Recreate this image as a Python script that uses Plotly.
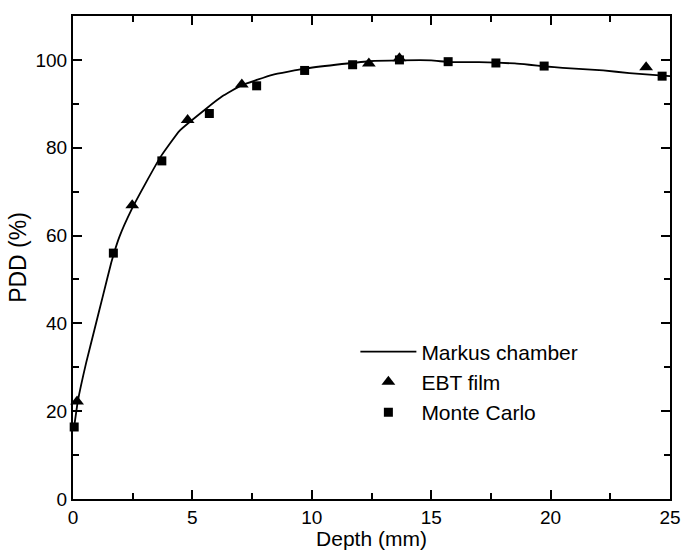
import plotly.graph_objects as go

# Markus chamber (line)
markus_depth = [0.05, 0.2, 0.55, 0.9, 1.25, 1.6, 1.95, 2.45, 3.05, 3.7, 4.45, 5.6, 6.25,
                7.05, 8.35, 9.7, 11.0, 12.4, 13.7, 15.0, 15.75, 17.0, 18.5, 19.1, 19.8,
                20.5, 22.2, 23.3, 24.7, 25.0]
markus_pdd = [16.5, 22.2, 31.0, 38.6, 46.2, 53.8, 59.8, 65.9, 72.0, 78.2, 83.8, 89.0, 91.7,
              94.2, 96.6, 98.0, 98.9, 99.7, 99.9, 99.9, 99.5, 99.5, 99.2, 98.9, 98.5,
              98.2, 97.6, 97.0, 96.4, 96.3]

# EBT film (triangles)
ebt_depth = [0.17, 2.48, 4.8, 7.07, 12.39, 13.67, 24.0]
ebt_pdd = [22.2, 66.9, 86.3, 94.4, 99.2, 100.4, 98.3]

# Monte Carlo (squares)
mc_depth = [0.05, 1.69, 3.72, 5.71, 7.69, 9.70, 11.71, 13.67, 15.71, 17.71, 19.73, 24.67]
mc_pdd = [16.4, 56.0, 77.0, 87.8, 94.1, 97.6, 98.9, 100.0, 99.6, 99.3, 98.6, 96.3]

font_family = "Liberation Sans, Arial, Helvetica, sans-serif"

fig = go.Figure()
fig.add_trace(go.Scatter(x=markus_depth, y=markus_pdd, mode="lines", name="Markus chamber",
                         line=dict(color="black", width=1.8, shape="spline", smoothing=0.3),
                         cliponaxis=False))
fig.add_trace(go.Scatter(x=ebt_depth, y=ebt_pdd, mode="markers", name="EBT film",
                         marker=dict(symbol="triangle-up", size=12, color="black"),
                         cliponaxis=False))
fig.add_trace(go.Scatter(x=mc_depth, y=mc_pdd, mode="markers", name="Monte Carlo",
                         marker=dict(symbol="square", size=9, color="black"),
                         cliponaxis=False))

axis_common = dict(
    showline=True, linecolor="black", linewidth=2, mirror="allticks",
    ticks="inside", ticklen=9, tickwidth=1.5, tickcolor="black",
    showgrid=False, zeroline=False, automargin=False,
    ticklabeloverflow="allow",
    tickfont=dict(family=font_family, size=19, color="black"),
)

fig.update_xaxes(range=[0, 25], tick0=0, dtick=5,
                 minor=dict(ticks="inside", ticklen=6, tickwidth=1.5, tickcolor="black", dtick=2.5),
                 title=dict(text="Depth (mm)", font=dict(family=font_family, size=21, color="black"),
                            standoff=2),
                 **axis_common)
fig.update_yaxes(range=[0, 110], tick0=0, dtick=20,
                 minor=dict(ticks="inside", ticklen=6, tickwidth=1.5, tickcolor="black", dtick=10),
                 title=dict(text="PDD (%)", font=dict(family=font_family, size=23, color="black"),
                            standoff=2),
                 **axis_common)

fig.update_layout(
    width=681, height=550,
    margin=dict(l=73, r=11, t=16, b=51),
    plot_bgcolor="white", paper_bgcolor="white",
    font=dict(family=font_family, color="black"),
    legend=dict(x=0.473, y=0.347, xanchor="left", yanchor="top",
                bgcolor="rgba(0,0,0,0)", borderwidth=0,
                font=dict(family=font_family, size=21, color="black"),
                itemwidth=56, tracegroupgap=0),
    showlegend=True,
)

fig.write_html("out.html")
